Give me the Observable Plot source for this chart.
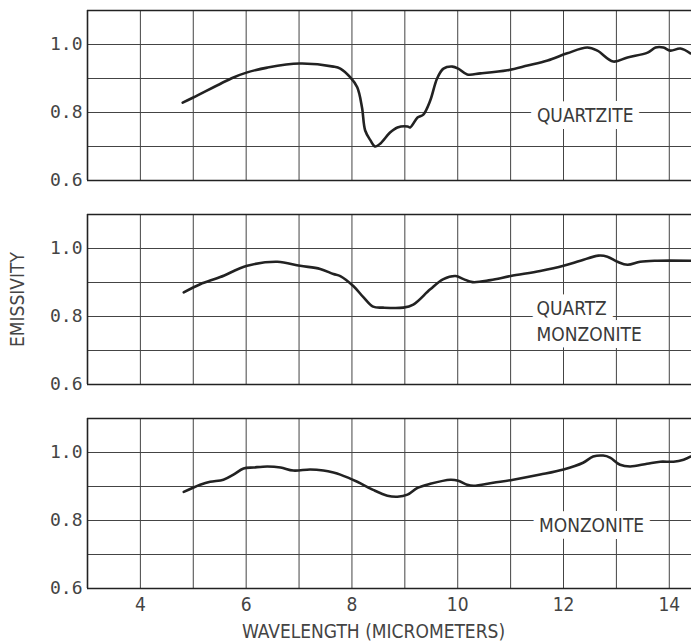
<!DOCTYPE html>
<html>
<head>
<meta charset="utf-8">
<script src="https://cdn.jsdelivr.net/npm/d3@7"></script>
<script src="https://cdn.jsdelivr.net/npm/@observablehq/plot@0.6"></script>
<style>
  html, body { margin: 0; padding: 0; background: #fff; }
  #chart svg { display: block; }
</style>
</head>
<body>
<div id="chart"></div>
<script>
// Panels (rock types), top to bottom
const rocks = ["QUARTZITE", "QUARTZ MONZONITE", "MONZONITE"];

// Quartzite emissivity spectrum
const quartziteX = [4.80,5.00,5.76,6.02,6.40,7.01,7.65,7.78,7.97,8.10,8.19,8.25,8.35,8.44,8.54,8.72,8.86,9.05,9.10,9.24,9.35,9.48,9.61,9.73,9.90,10.01,10.18,10.43,10.94,11.32,11.70,12.07,12.45,12.64,12.94,13.21,13.59,13.74,13.89,14.02,14.21,14.40];
const quartziteY = [0.829,0.844,0.903,0.918,0.932,0.944,0.935,0.929,0.903,0.874,0.815,0.747,0.718,0.700,0.709,0.741,0.756,0.759,0.756,0.785,0.794,0.835,0.900,0.929,0.935,0.929,0.912,0.915,0.924,0.938,0.953,0.974,0.991,0.982,0.950,0.962,0.976,0.991,0.991,0.982,0.988,0.974];

// Quartz monzonite emissivity spectrum
const qMonzoniteX = [4.82,5.13,5.51,6.02,6.59,7.02,7.40,7.65,7.78,8.03,8.22,8.40,8.59,8.97,9.16,9.48,9.73,9.96,10.11,10.28,10.62,11.00,11.56,12.00,12.32,12.66,12.83,13.02,13.21,13.45,13.77,14.40];
const qMonzoniteY = [0.871,0.895,0.916,0.949,0.961,0.949,0.940,0.925,0.919,0.889,0.856,0.829,0.826,0.826,0.835,0.880,0.910,0.919,0.910,0.901,0.907,0.919,0.934,0.949,0.964,0.979,0.976,0.961,0.952,0.961,0.964,0.964];

// Monzonite emissivity spectrum
const monzoniteX = [4.82,5.13,5.32,5.57,5.76,5.95,6.14,6.40,6.65,6.89,7.21,7.46,7.65,7.78,8.10,8.40,8.67,8.86,9.05,9.24,9.48,9.86,10.01,10.18,10.30,10.67,11.05,11.56,12.00,12.37,12.56,12.75,12.88,13.07,13.26,13.58,13.83,14.08,14.27,14.40];
const monzoniteY = [0.884,0.905,0.914,0.920,0.935,0.953,0.956,0.959,0.956,0.947,0.950,0.947,0.941,0.935,0.914,0.890,0.873,0.870,0.876,0.896,0.908,0.920,0.917,0.905,0.902,0.911,0.920,0.935,0.950,0.970,0.988,0.991,0.985,0.964,0.959,0.967,0.973,0.973,0.979,0.988];

// Axes / grid values
const xDomain = [3, 14.42];
const yDomain = [0.6, 1.1];
const xTicks = [4, 6, 8, 10, 12, 14];
const xGrid = [4, 5, 6, 7, 8, 9, 10, 11, 12, 13, 14];
const yTicks = [0.6, 0.8, 1.0];
const yGrid = [0.7, 0.8, 0.9, 1.0];

// In-panel labels
const labelText = ["QUARTZITE", "QUARTZ\nMONZONITE", "MONZONITE"];
const labelX = [12.41, 11.49, 12.53];
const labelY = [0.797, 0.791, 0.790];
const labelAnchor = ["middle", "start", "middle"];

const xTitle = "WAVELENGTH (MICROMETERS)";
const yTitle = "EMISSIVITY";

const series = [
  [rocks[0], quartziteX, quartziteY],
  [rocks[1], qMonzoniteX, qMonzoniteY],
  [rocks[2], monzoniteX, monzoniteY]
];
const curves = series.flatMap(([rock, xs, ys]) => xs.map((x, i) => ({rock, x, y: ys[i]})));
const labels = labelText.map((t, i) => ({rock: rocks[i], text: t, x: labelX[i], y: labelY[i], anchor: labelAnchor[i]}));

const sansFont = "'Liberation Sans Narrow', 'DejaVu Sans Condensed', 'Roboto Condensed', 'Liberation Sans', sans-serif";
const monoFont = "'DejaVu Sans Mono', 'Liberation Mono', monospace";
const gridColor = "#444";
const inkColor = "#3a3a3a";

const labelMark = (anchor) => Plot.text(labels.filter((d) => d.anchor === anchor), {
  x: "x", y: "y", fy: "rock", text: "text",
  textAnchor: anchor,
  fontFamily: sansFont, fontSize: 19, fill: inkColor,
  stroke: "#fff", strokeWidth: 14, strokeLinejoin: "round",
  lineHeight: 1.35, lineAnchor: "middle", letterSpacing: 0.6
});

const chart = Plot.plot({
  width: 691,
  height: 642,
  marginTop: 10,
  marginBottom: 54,
  marginLeft: 87,
  marginRight: 0,
  style: {background: "#fff", color: inkColor},
  x: {domain: xDomain},
  y: {domain: yDomain},
  fy: {domain: rocks, axis: null, paddingInner: 34 / 204, paddingOuter: 0},
  marks: [
    Plot.ruleX(xGrid, {stroke: gridColor, strokeWidth: 1, strokeOpacity: 1}),
    Plot.ruleY(yGrid, {stroke: gridColor, strokeWidth: 1, strokeOpacity: 1}),
    Plot.ruleX([xDomain[0]], {stroke: "#222", strokeWidth: 1.6}),
    Plot.ruleY(yDomain, {stroke: "#222", strokeWidth: 1.6}),
    labelMark("middle"),
    labelMark("start"),
    Plot.line(curves, {
      x: "x", y: "y", fy: "rock", z: "rock",
      curve: "catmull-rom", stroke: "#222", strokeWidth: 2.6, clip: true
    }),
    Plot.axisY(yTicks, {
      anchor: "left", tickSize: 0, tickPadding: 5, label: null,
      tickFormat: d3.format(".1f"), fontFamily: monoFont, fontSize: 18, fill: "#444"
    }),
    Plot.axisX(xTicks, {
      anchor: "bottom", tickSize: 0, tickPadding: 9, label: null,
      fontFamily: sansFont, fontSize: 19, fill: "#444"
    }),
    Plot.text([yTitle], {
      fy: [rocks[1]], frameAnchor: "left", textAnchor: "middle", dx: -70, rotate: -90,
      fontFamily: sansFont, fontSize: 19, fill: "#444", letterSpacing: 2.5
    }),
    Plot.text([xTitle], {
      fy: [rocks[2]], frameAnchor: "bottom", dy: 43, dx: 373 - (87 + 604 / 2),
      fontFamily: sansFont, fontSize: 19, fill: "#444", letterSpacing: 0.8, lineAnchor: "middle"
    })
  ]
});
document.getElementById("chart").appendChild(chart);
</script>
</body>
</html>
